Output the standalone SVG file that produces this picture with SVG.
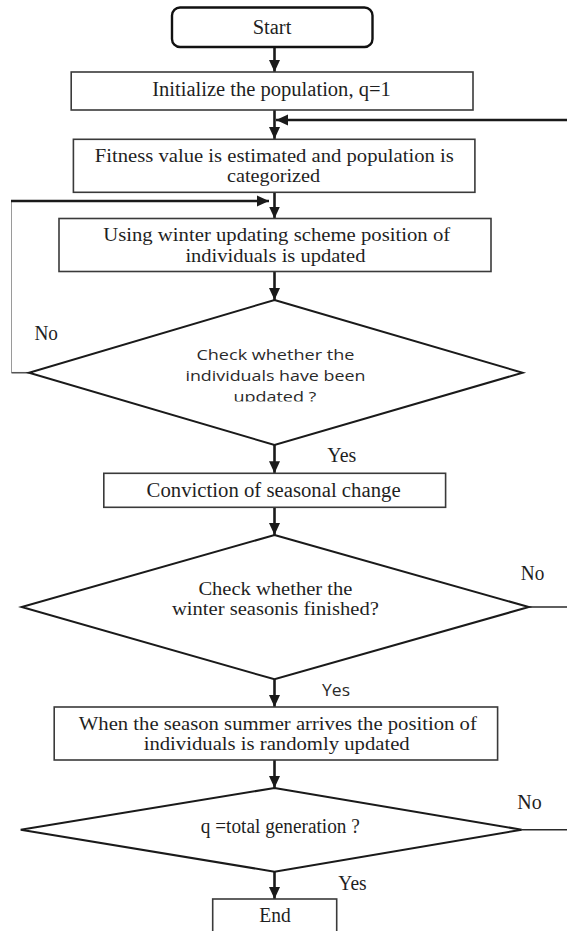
<svg xmlns="http://www.w3.org/2000/svg" width="567" height="931" viewBox="0 0 567 931">
  <style>
    .box { fill: #ffffff; stroke: #3a3a3a; stroke-width: 1.6; }
    .term { fill: #ffffff; stroke: #111111; stroke-width: 2.4; }
    .dia { fill: #ffffff; stroke: #1a1a1a; stroke-width: 2; }
    .flow { fill: none; stroke: #1a1a1a; stroke-width: 2.6; }
    .exit { fill: none; stroke: #2a2a2a; stroke-width: 1.5; }
    .loop { fill: none; stroke: #9a9a9a; stroke-width: 1; }
    .serif { font-family: "Liberation Serif", "Times New Roman", serif; font-size: 18px; fill: #1f1f1f; }
    .big { font-size: 20px; }
    .sans { font-family: "Open Sans", "Noto Sans", sans-serif; font-size: 15px; fill: #2a2a2a; }
    .mid { text-anchor: middle; }
  </style>
  <defs>
    <marker id="arrow" markerUnits="userSpaceOnUse" markerWidth="13" markerHeight="12" refX="12" refY="6" orient="auto">
      <path d="M0,0.5 L12,6 L0,11.5 z" fill="#1a1a1a"/>
    </marker>
    <clipPath id="cutLine">
      <rect x="0" y="386" width="567" height="15.5"/>
    </clipPath>
  </defs>

  <!-- connectors -->
  <g id="connectors">
    <line class="flow" x1="274.5" y1="47" x2="274.5" y2="72" marker-end="url(#arrow)"/>
    <line class="flow" x1="274.5" y1="110" x2="274.5" y2="139" marker-end="url(#arrow)"/>
    <line class="flow" x1="567" y1="120" x2="276" y2="120" marker-end="url(#arrow)"/>
    <line class="flow" x1="274.5" y1="192" x2="274.5" y2="218.5" marker-end="url(#arrow)"/>
    <!-- "No" loop back from the first decision -->
    <polyline class="loop" points="29,372.7 11.5,372.7 11.5,201"/>
    <line x1="11.5" y1="372.7" x2="29" y2="372.7" stroke="#555" stroke-width="1.5"/>
    <line class="flow" x1="11" y1="201" x2="269" y2="201" marker-end="url(#arrow)"/>
    <line class="flow" x1="274.5" y1="271.5" x2="274.5" y2="300" marker-end="url(#arrow)"/>
    <line class="flow" x1="274.5" y1="445" x2="274.5" y2="473.3" marker-end="url(#arrow)"/>
    <line class="flow" x1="274.5" y1="507.3" x2="274.5" y2="535" marker-end="url(#arrow)"/>
    <line class="exit" x1="528.8" y1="607" x2="567" y2="607"/>
    <line class="flow" x1="274.5" y1="679.3" x2="274.5" y2="707" marker-end="url(#arrow)"/>
    <line class="flow" x1="274.5" y1="760" x2="274.5" y2="788" marker-end="url(#arrow)"/>
    <line class="exit" x1="521.7" y1="829.7" x2="567" y2="829.7"/>
    <line class="flow" x1="274.5" y1="871.7" x2="274.5" y2="899" marker-end="url(#arrow)"/>
  </g>

  <g id="start">
    <rect class="term" x="172" y="7.5" width="200.5" height="39.5" rx="8" ry="8"/>
    <text class="serif big mid" x="272" y="33.5" textLength="38.7" lengthAdjust="spacingAndGlyphs">Start</text>
  </g>

  <g id="init">
    <rect class="box" x="71.2" y="72" width="401.8" height="38"/>
    <text class="serif big mid" x="271.5" y="96" textLength="238.6" lengthAdjust="spacingAndGlyphs">Initialize the population, q=1</text>
  </g>

  <g id="fitness">
    <rect class="box" x="73.4" y="139.3" width="401.5" height="53"/>
    <text class="serif mid" x="274.3" y="161.5" textLength="359" lengthAdjust="spacingAndGlyphs">Fitness value is estimated and population is</text>
    <text class="serif mid" x="273.6" y="182" textLength="93" lengthAdjust="spacingAndGlyphs">categorized</text>
  </g>

  <g id="winter">
    <rect class="box" x="59" y="218.5" width="432" height="53"/>
    <text class="serif mid" x="276.7" y="241" textLength="347" lengthAdjust="spacingAndGlyphs">Using winter updating scheme position of</text>
    <text class="serif mid" x="275.4" y="261.5" textLength="180" lengthAdjust="spacingAndGlyphs">individuals is updated</text>
  </g>

  <g id="check-updated">
    <polygon class="dia" points="274.5,300 522.6,372.7 274.5,445 29,372.7"/>
    <text class="sans mid" x="275.4" y="360" textLength="158" lengthAdjust="spacingAndGlyphs">Check whether the</text>
    <text class="sans mid" x="275.4" y="381" textLength="180" lengthAdjust="spacingAndGlyphs">individuals have been</text>
    <text class="sans mid" x="274.9" y="402" textLength="83" lengthAdjust="spacingAndGlyphs" clip-path="url(#cutLine)">updated ?</text>
    <text class="serif big" x="34.4" y="340" textLength="23.5" lengthAdjust="spacingAndGlyphs">No</text>
    <text class="serif big" x="327.3" y="461.5" textLength="28.9" lengthAdjust="spacingAndGlyphs">Yes</text>
  </g>

  <g id="conviction">
    <rect class="box" x="103.8" y="473.3" width="341.8" height="34"/>
    <text class="serif big mid" x="273.6" y="496.5" textLength="254" lengthAdjust="spacingAndGlyphs">Conviction of seasonal change</text>
  </g>

  <g id="check-winter">
    <polygon class="dia" points="274.5,535 528.8,607 274.5,679.3 21.7,607"/>
    <text class="serif mid" x="275.4" y="594.5" textLength="154" lengthAdjust="spacingAndGlyphs">Check whether the</text>
    <text class="serif mid" x="275.4" y="615" textLength="207" lengthAdjust="spacingAndGlyphs">winter seasonis finished?</text>
    <text class="serif big" x="520.8" y="580" textLength="23.5" lengthAdjust="spacingAndGlyphs">No</text>
    <text class="sans" x="322" y="696" textLength="28" lengthAdjust="spacingAndGlyphs" style="font-size:17px">Yes</text>
  </g>

  <g id="summer">
    <rect class="box" x="54.2" y="707" width="443.4" height="53"/>
    <text class="serif mid" x="277.8" y="729.5" textLength="398" lengthAdjust="spacingAndGlyphs">When the season summer arrives the position of</text>
    <text class="serif mid" x="276.7" y="750" textLength="266" lengthAdjust="spacingAndGlyphs">individuals is randomly updated</text>
  </g>

  <g id="check-generation">
    <polygon class="dia" points="274.5,788 521.7,829.7 274.5,871.7 20.7,829.7"/>
    <text class="serif big mid" x="280.3" y="832.5" textLength="159" lengthAdjust="spacingAndGlyphs">q =total generation ?</text>
    <text class="serif big" x="517.3" y="809" textLength="24.4" lengthAdjust="spacingAndGlyphs">No</text>
    <text class="serif big" x="338.3" y="889.5" textLength="28.3" lengthAdjust="spacingAndGlyphs">Yes</text>
  </g>

  <g id="end">
    <rect class="box" x="212.7" y="899" width="124" height="40"/>
    <text class="serif big mid" x="275" y="921.5" textLength="31.4" lengthAdjust="spacingAndGlyphs">End</text>
  </g>
</svg>
